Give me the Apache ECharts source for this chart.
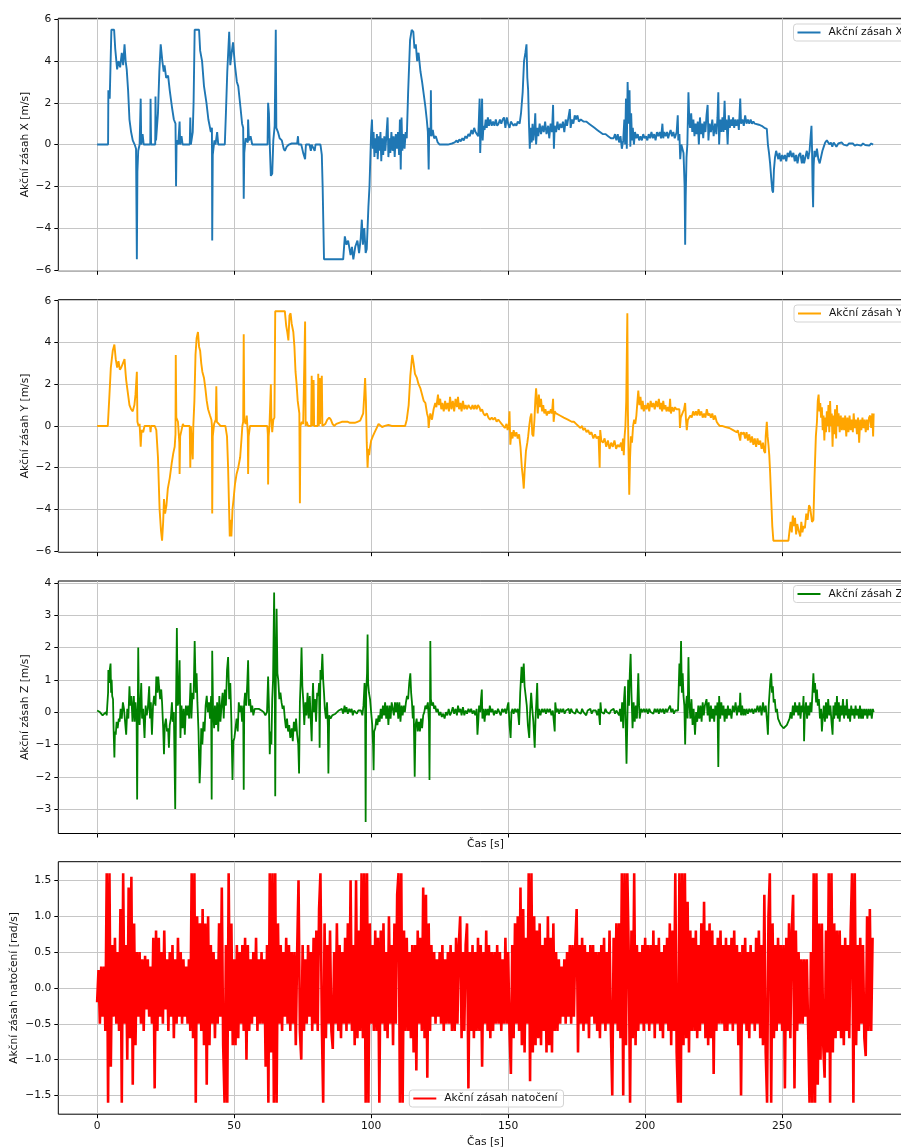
<!DOCTYPE html>
<html><head><meta charset="utf-8">
<script src="https://cdn.jsdelivr.net/npm/echarts@6/dist/echarts.min.js"></script>
<style>html,body{margin:0;padding:0;background:#fff}#c{width:901px;height:1147px}</style>
</head><body><div id="c"></div>
<script>
// ---- labels ----
const seriesNames = ['Akční zásah X', 'Akční zásah Y', 'Akční zásah Z', 'Akční zásah natočení'];
const yTitles = ['Akční zásah X [m/s]', 'Akční zásah Y [m/s]', 'Akční zásah Z [m/s]', 'Akční zásah natočení [rad/s]'];
const xTitle = 'Čas [s]';
const xTicks = [0, 50, 100, 150, 200, 250];
const yTicksXY = [-6, -4, -2, 0, 2, 4, 6];
const yTicksZ = [-3, -2, -1, 0, 1, 2, 3, 4];
const yTicksRot = [-1.5, -1.0, -0.5, 0.0, 0.5, 1.0, 1.5];

// ---- data: [time s, value] ----
const akcniX = [[0,0],[4,0],[4.1,2.6],[4.6,2.2],[5.2,5.5],[6.2,5.5],[6.6,4.6],[7.3,3.6],[7.8,4.0],[8.4,3.7],[9.0,4.4],[9.5,3.8],[10.0,4.8],[10.4,4.0],[10.8,3.6],[11.3,2.6],[11.8,1.2],[12.4,0.6],[13.0,0.2],[13.7,0],[14.2,-0.2],[14.5,-5.5],[14.7,-1.3],[15.0,-0.3],[15.5,0],[15.9,2.2],[16.1,0],[16.6,0.5],[17.0,0],[19.4,0],[19.5,2.2],[19.7,0],[21.2,0],[21.3,2.3],[21.5,0.2],[22.2,1.5],[22.7,3.5],[23.2,4.8],[23.8,4.0],[24.3,3.5],[24.6,3.8],[25.2,3.2],[25.9,3.3],[26.5,2.6],[27.3,1.8],[28.0,1.2],[28.6,1.0],[28.8,-2.0],[29.0,0.2],[29.6,0],[30.1,1.1],[30.3,0],[30.8,0.4],[31.2,0],[33.8,0],[34.0,1.3],[34.2,0],[34.9,0.6],[35.2,2.0],[35.6,5.5],[37.2,5.5],[37.6,4.5],[38.3,4.0],[39.0,2.8],[39.9,2.0],[40.6,1.2],[41.5,0.6],[41.9,0.8],[42.0,-4.6],[42.2,-0.5],[42.8,0.2],[43.2,0],[43.8,0.6],[44.2,0],[46.6,0],[47.0,1.5],[47.5,3.5],[48.2,5.4],[48.6,3.8],[49.2,4.5],[49.6,4.9],[50.3,3.8],[51.0,3.0],[51.5,2.8],[52.3,1.8],[52.9,1.0],[53.3,0.8],[53.5,-2.6],[53.7,-0.4],[54.2,0.3],[55.0,0.1],[55.1,1.2],[55.4,0.2],[56.0,0.4],[56.6,0],[62.2,0],[62.4,2.0],[62.7,1.5],[63.0,0],[63.4,-1.5],[63.9,-1.4],[64.3,0.2],[64.8,0.9],[65.2,5.5],[65.4,0.8],[66.0,0.6],[66.6,0.3],[67.4,0.2],[68.1,-0.2],[68.5,-0.3],[69.2,-0.1],[70.0,0.0],[71.0,0.05],[73.0,0.05],[73.3,0.4],[73.5,0],[74.5,0],[75.2,-0.4],[75.9,-0.7],[76.2,0],[77.5,0],[78.0,-0.3],[78.3,0],[79.0,0],[79.4,-0.3],[79.7,0],[81.5,0],[82.0,-0.5],[82.3,-2.0],[82.8,-5.5],[89.8,-5.5],[90.4,-4.4],[91.0,-4.8],[91.6,-4.6],[92.5,-5.3],[93.0,-4.9],[93.5,-5.5],[94.2,-4.9],[95.0,-4.6],[95.6,-5.2],[96.2,-4.5],[96.6,-3.6],[97.0,-4.8],[97.5,-4.0],[98.0,-5.2],[98.4,-5.0],[99.0,-3.0],[99.4,-2.0],[100.0,0.6],[100.3,1.2],[100.6,-0.2],[100.9,0.6],[101.2,-0.6],[101.5,0.3],[101.8,-0.4],[102.1,0.5],[102.4,-0.7],[102.8,0.4],[103.1,-0.3],[103.4,0.6],[103.7,-0.8],[104.0,0.3],[104.4,-0.5],[104.8,0.4],[105.2,-0.3],[105.6,0.5],[106.0,1.3],[106.3,-0.6],[106.7,0.3],[107.0,-0.4],[107.4,0.6],[107.8,-0.3],[108.2,0.4],[108.6,-0.6],[109.0,0.5],[109.4,-0.2],[109.8,0.6],[110.2,-0.5],[110.5,1.2],[110.8,-1.2],[111.1,1.3],[111.4,-0.3],[111.8,0.5],[112.2,-0.2],[112.6,0.6],[113.0,0.3],[113.5,2.5],[114.2,5.0],[114.8,5.5],[115.4,5.4],[115.8,4.6],[116.3,4.8],[116.8,4.0],[117.3,4.4],[118.0,3.5],[118.6,3.0],[119.2,2.4],[119.8,1.8],[120.3,1.2],[120.7,0.6],[121.0,-1.2],[121.2,0.8],[121.7,0.4],[121.8,2.6],[122.0,0.4],[122.5,0.7],[123.0,0.3],[123.6,0.4],[124.3,0.1],[125.0,0.0],[126.5,0.0],[128.0,0.0],[129.5,0.05],[130.5,0.1],[131.2,0.2],[131.6,0.1],[132.2,0.25],[132.7,0.15],[133.3,0.3],[133.8,0.2],[134.4,0.4],[134.9,0.3],[135.5,0.5],[136.0,0.4],[136.6,0.7],[137.1,0.5],[137.6,0.8],[138.1,0.6],[138.6,0.5],[139.1,0.4],[139.4,1.5],[139.6,2.2],[139.8,-0.4],[140.1,0.8],[140.5,2.2],[140.7,0.2],[141.0,0.9],[141.4,0.7],[141.8,1.2],[142.2,0.8],[142.6,1.3],[143.0,0.9],[143.5,1.2],[144.0,0.9],[144.5,1.1],[145.0,0.9],[145.5,1.2],[146.0,0.9],[146.5,1.0],[147.0,1.2],[147.5,1.0],[148.0,1.2],[148.5,1.3],[149.0,0.8],[149.5,1.3],[150.0,1.0],[150.5,0.8],[151.0,1.1],[151.5,1.0],[152.0,0.9],[152.5,1.0],[153.0,0.9],[153.5,1.1],[154.2,1.0],[154.7,1.5],[155.3,2.5],[155.8,4.0],[156.3,4.4],[156.7,4.8],[157.0,3.2],[157.3,2.6],[157.6,1.0],[157.9,-0.2],[158.2,0.8],[158.6,0.1],[158.9,1.0],[159.2,0.2],[159.6,0.7],[159.9,1.5],[160.2,0.0],[160.6,0.8],[161.0,0.4],[161.5,1.0],[162.0,0.5],[162.5,0.9],[163.0,0.6],[163.5,1.1],[164.0,0.5],[164.6,0.9],[165.0,0.3],[165.5,1.0],[166.0,0.6],[166.4,1.9],[166.7,-0.2],[167.0,0.9],[167.5,0.6],[168.0,1.1],[168.5,0.7],[169.0,1.0],[169.5,0.8],[170.0,1.1],[170.5,0.6],[171.0,1.2],[171.5,0.9],[172.0,1.3],[172.5,1.7],[172.8,0.8],[173.3,1.2],[173.8,1.0],[174.3,1.4],[174.8,1.2],[175.3,1.4],[175.8,1.1],[176.5,1.2],[177.5,1.1],[178.5,1.1],[179.5,1.0],[180.5,0.9],[181.5,0.8],[182.5,0.7],[183.5,0.6],[184.5,0.5],[185.5,0.5],[186.5,0.4],[187.5,0.3],[188.5,0.3],[189.0,0.5],[189.5,0.2],[190.0,0.5],[190.5,0.1],[191.0,0.4],[191.5,-0.2],[192.0,0.2],[192.4,1.2],[192.7,0.0],[193.0,2.2],[193.3,-0.2],[193.6,3.0],[193.9,1.6],[194.1,1.0],[194.3,2.6],[194.6,-0.1],[194.9,1.5],[195.2,0.2],[195.5,0.8],[195.9,0.0],[196.3,0.6],[196.8,0.3],[197.3,0.5],[197.8,0.2],[198.3,0.4],[198.8,0.2],[199.3,0.5],[199.8,0.3],[200.3,0.4],[200.8,0.2],[201.3,0.5],[201.8,0.3],[202.3,0.6],[202.8,0.3],[203.3,0.5],[203.8,0.2],[204.3,0.6],[204.8,0.4],[205.3,0.6],[205.8,0.3],[206.3,1.0],[206.6,0.3],[207.0,0.6],[207.5,0.4],[208.0,0.6],[208.4,0.3],[208.8,0.5],[209.3,0.7],[209.8,0.4],[210.3,0.6],[210.8,0.3],[211.5,0.6],[211.9,1.4],[212.1,0.2],[212.5,0.5],[212.8,-0.7],[213.2,0.0],[213.6,0.0],[214.0,-0.4],[214.4,-2.0],[214.6,-4.8],[214.8,-2.5],[215.1,-0.6],[215.4,0.0],[215.8,2.5],[216.1,1.2],[216.4,0.8],[216.8,1.5],[217.2,0.6],[217.6,1.2],[218.0,0.4],[218.4,1.0],[218.8,0.5],[219.2,1.1],[219.6,0.0],[220.0,1.3],[220.4,0.5],[220.8,1.0],[221.2,0.3],[221.6,1.1],[222.0,0.6],[222.4,1.4],[222.8,1.9],[223.1,0.2],[223.5,1.0],[224.0,0.6],[224.5,1.2],[225.0,0.4],[225.5,1.0],[226.0,0.5],[226.4,1.3],[226.7,2.5],[227.0,0.0],[227.4,1.2],[227.8,0.6],[228.2,1.3],[228.6,0.6],[229.0,2.1],[229.3,0.7],[229.7,1.2],[230.1,0.0],[230.5,1.4],[230.9,0.8],[231.3,1.2],[231.7,0.9],[232.1,1.3],[232.5,0.8],[232.9,1.2],[233.3,0.9],[233.8,1.2],[234.2,0.7],[234.7,2.2],[235.0,1.0],[235.5,1.2],[236.0,0.9],[236.5,1.4],[237.0,1.0],[237.5,1.2],[238.0,1.0],[238.5,1.2],[239.0,1.0],[239.5,1.1],[240.0,1.0],[240.5,1.0],[241.5,0.95],[242.5,0.9],[243.5,0.8],[244.4,0.75],[244.8,0.0],[245.2,-0.4],[245.6,-0.9],[246.0,-1.6],[246.4,-2.2],[246.7,-2.3],[247.0,-1.2],[247.4,-0.6],[247.8,-0.3],[248.2,-0.5],[248.6,-0.7],[249.0,-0.4],[249.5,-0.8],[250.0,-0.5],[250.5,-0.7],[251.0,-0.5],[251.5,-0.8],[252.0,-0.4],[252.5,-0.6],[253.0,-0.3],[253.5,-0.6],[254.1,-0.4],[254.6,-0.8],[255.1,-0.5],[255.6,-0.9],[256.1,-0.5],[256.6,-0.4],[257.2,-0.9],[257.6,-0.5],[258.0,-0.9],[258.5,-0.6],[259.0,-0.3],[259.5,-0.7],[260.0,-0.3],[260.4,0.4],[260.7,0.9],[260.9,-0.2],[261.1,-2.0],[261.3,-3.0],[261.5,-1.0],[261.8,-0.3],[262.2,-0.6],[262.7,-0.2],[263.2,-0.7],[263.7,-0.9],[264.2,-0.6],[264.7,-0.3],[265.2,-0.1],[265.7,0.1],[266.3,0.2],[266.8,0.15],[267.3,0.0],[267.8,0.1],[268.3,-0.1],[268.8,0.1],[269.3,0.0],[269.8,-0.1],[270.5,0.05],[271.0,0.0],[271.7,0.1],[272.4,0.0],[273.0,0.08],[273.7,-0.05],[274.4,0.05],[275.1,0.0],[275.8,0.05],[276.5,-0.05],[277.3,0.0],[278.0,0.05],[278.8,-0.05],[279.5,0.05],[280.3,-0.02],[281.0,0.05],[281.8,-0.05],[282.5,0.05],[283.2,0.0]];

const akcniY = [[0,0],[3.9,0],[4.5,1.5],[5.0,2.8],[5.7,3.6],[6.3,3.9],[6.8,3.2],[7.3,2.8],[7.8,3.1],[8.3,2.7],[8.8,2.8],[9.4,3.0],[10.0,3.2],[10.4,2.5],[10.6,2.2],[11.2,1.6],[11.8,1.0],[12.4,0.8],[13.0,0.7],[13.6,1.0],[14.0,1.5],[14.5,2.6],[14.7,0.2],[15.1,0.0],[15.5,0.1],[15.9,-1.0],[16.2,-0.2],[16.8,-0.3],[17.3,0.0],[19.3,0],[19.5,-0.3],[19.7,0],[21.0,0],[21.6,-0.2],[22.2,-1.5],[22.8,-4.0],[23.3,-5.0],[23.7,-5.5],[24.1,-4.6],[24.4,-3.5],[24.8,-4.2],[25.3,-3.8],[25.8,-3.0],[26.5,-2.5],[27.2,-1.8],[27.8,-1.3],[28.3,-1.0],[28.6,-0.4],[28.7,3.4],[28.9,0.4],[29.5,0.2],[30.0,-0.8],[30.1,-2.3],[30.3,-0.5],[30.8,-0.2],[31.3,0.1],[31.6,0],[33.8,0],[34.0,-2.0],[34.2,0],[34.7,0],[34.9,-1.6],[35.1,0],[35.5,1.2],[35.9,3.4],[36.3,4.2],[36.8,4.5],[37.2,3.8],[37.6,3.6],[38.0,3.0],[38.4,2.6],[39.0,2.3],[39.5,1.8],[40.0,1.2],[40.5,0.8],[41.2,0.5],[41.7,0.3],[41.9,0.0],[42.0,-4.2],[42.2,-0.5],[42.7,0.1],[43.3,0.3],[43.5,1.9],[43.7,0.2],[44.4,0.1],[45.0,0],[46.8,0],[47.4,-0.5],[47.8,-2.0],[48.2,-4.2],[48.4,-5.3],[48.8,-4.5],[49.0,-5.3],[49.4,-4.0],[49.8,-3.5],[50.3,-2.8],[50.9,-2.3],[51.5,-2.0],[52.2,-1.5],[52.7,-0.6],[53.0,0],[53.3,0.2],[53.5,4.4],[53.7,0.3],[54.2,0.1],[54.6,0.5],[55.0,-0.4],[55.1,-2.3],[55.3,-0.5],[55.8,0.0],[56.4,0],[62.1,0],[62.3,-0.4],[62.4,-2.8],[62.6,-0.5],[62.9,0],[63.2,0],[63.4,2.0],[63.6,0.4],[63.9,-0.3],[64.3,0.3],[64.7,0.4],[65.0,5.5],[68.5,5.5],[69.0,4.8],[69.4,4.5],[69.8,4.1],[70.2,5.3],[70.6,5.4],[71.0,4.9],[71.6,4.5],[72.0,3.8],[72.4,2.6],[72.8,2.0],[73.2,1.2],[73.4,1.0],[73.8,0.6],[74.0,-3.7],[74.2,0.0],[74.7,0.2],[75.2,0.1],[75.9,5.0],[76.1,0.0],[76.5,0.2],[77.0,0.0],[78.1,0],[78.3,2.4],[78.5,0],[79.0,2.2],[79.2,0],[80.5,0],[80.7,2.5],[80.9,0],[81.2,2.3],[81.4,0.1],[81.7,1.9],[82.0,2.4],[82.2,0.0],[82.6,0.0],[83.3,0.1],[84.0,0.3],[84.7,0.4],[85.3,0.3],[85.9,0.1],[86.5,0.0],[87.3,0.1],[88.0,0.1],[89.3,0.2],[90.5,0.2],[91.5,0.2],[92.3,0.15],[93.0,0.2],[94.0,0.15],[95.0,0.2],[96.0,0.25],[96.6,0.3],[97.1,0.6],[97.5,1.5],[97.8,2.3],[98.1,1.2],[98.4,-0.8],[98.7,-2.0],[99.0,-1.1],[99.3,-1.4],[99.6,-1.0],[100.0,-0.7],[100.6,-0.5],[101.3,-0.3],[102.0,-0.1],[102.7,0.1],[103.3,0.05],[104.0,-0.05],[105.0,0.0],[106.3,0.05],[107.5,0.0],[109.0,0.0],[110.5,0.0],[112.4,0.0],[113.0,0.3],[113.7,1.0],[114.3,2.4],[115.0,3.4],[115.5,3.0],[116.0,2.5],[116.7,2.3],[117.3,2.0],[118.0,1.8],[118.6,1.5],[119.2,1.2],[119.8,1.1],[120.4,0.6],[120.8,0.4],[121.0,-0.1],[121.2,0.2],[121.6,0.6],[122.2,0.3],[122.8,0.8],[123.4,1.1],[123.8,0.9],[124.4,1.5],[124.7,1.0],[125.2,1.3],[125.6,0.8],[126.0,1.1],[126.5,0.7],[127.0,1.2],[127.4,0.8],[127.9,1.1],[128.4,0.7],[128.8,1.4],[129.3,0.8],[129.8,1.2],[130.3,0.7],[130.8,1.3],[131.3,0.9],[131.7,1.4],[132.1,0.8],[132.6,1.1],[133.0,0.7],[133.5,1.2],[134.0,0.8],[134.5,1.0],[135.0,0.8],[135.5,1.0],[136.0,0.9],[136.5,0.8],[137.0,1.0],[137.5,0.8],[138.0,1.0],[138.5,0.8],[139.0,1.0],[139.5,0.9],[140.0,0.7],[140.5,0.8],[141.0,0.6],[141.5,0.5],[142.2,0.6],[142.8,0.4],[143.4,0.3],[144.0,0.4],[144.6,0.3],[145.2,0.4],[145.8,0.2],[146.4,0.3],[147.0,0.2],[147.6,0.1],[148.2,0.0],[148.8,-0.1],[149.4,0.1],[149.8,-0.2],[150.2,0.0],[150.5,0.7],[150.8,-0.9],[151.2,-0.3],[151.6,-0.6],[152.0,-0.2],[152.5,-0.5],[153.0,-0.3],[153.5,-0.6],[154.0,-0.4],[154.5,-1.0],[155.0,-2.0],[155.4,-2.5],[155.7,-3.0],[156.0,-2.2],[156.5,-1.2],[157.0,-0.8],[157.3,-0.5],[157.7,0.0],[158.1,0.4],[158.5,0.6],[158.8,-0.4],[159.2,-0.5],[159.6,0.3],[159.9,1.2],[160.2,1.8],[160.5,1.2],[160.8,0.6],[161.2,1.5],[161.6,0.9],[162.0,1.3],[162.4,0.7],[162.8,1.0],[163.2,0.6],[163.6,0.8],[164.1,0.5],[164.6,0.7],[165.1,0.6],[165.6,0.8],[166.0,0.6],[166.4,1.3],[166.6,0.2],[167.0,0.7],[167.5,0.6],[168.2,0.6],[168.9,0.5],[169.6,0.5],[170.3,0.4],[171.0,0.4],[171.8,0.3],[172.5,0.3],[173.2,0.2],[174.0,0.2],[174.8,0.1],[175.6,0.0],[176.4,-0.1],[177.0,0.0],[177.4,-0.2],[178.0,-0.1],[178.6,-0.3],[179.2,-0.2],[179.8,-0.4],[180.4,-0.3],[181.1,-0.6],[181.7,-0.4],[182.3,-0.6],[183.0,-0.5],[183.4,-2.0],[183.6,-0.2],[184.0,-0.7],[184.6,-0.8],[185.2,-0.6],[185.8,-1.0],[186.4,-0.7],[187.0,-1.1],[187.6,-0.8],[188.2,-1.0],[188.8,-0.7],[189.4,-1.1],[190.0,-0.9],[190.6,-1.0],[191.2,-0.8],[191.6,-1.2],[191.9,-0.6],[192.2,-1.4],[192.5,-0.5],[192.8,0.0],[193.1,1.2],[193.5,5.4],[193.7,0.8],[193.9,-1.0],[194.2,-3.3],[194.5,-1.5],[194.8,-0.5],[195.2,-0.8],[195.6,0.0],[196.0,0.3],[196.4,0.1],[196.8,0.5],[197.2,1.2],[197.5,1.7],[197.9,1.0],[198.3,1.4],[198.7,0.8],[199.1,1.2],[199.5,0.7],[200.0,1.0],[200.5,0.8],[201.0,1.1],[201.5,0.7],[202.0,1.2],[202.5,0.9],[203.0,1.1],[203.5,0.8],[204.0,1.2],[204.5,0.9],[205.0,1.3],[205.4,0.8],[205.8,1.1],[206.2,0.7],[206.6,1.2],[207.0,0.8],[207.4,1.0],[207.8,0.7],[208.3,0.9],[208.8,0.7],[209.1,1.3],[209.4,0.6],[209.9,0.9],[210.4,0.7],[210.9,0.9],[211.4,0.8],[212.0,0.8],[212.5,0.8],[212.7,-0.1],[213.0,0.4],[213.6,0.6],[214.2,0.8],[214.6,1.1],[214.9,0.3],[215.2,-0.2],[215.6,0.3],[216.0,0.3],[216.5,0.5],[217.0,0.4],[217.5,0.7],[218.0,0.5],[218.5,0.7],[219.0,0.5],[219.5,0.8],[220.0,0.5],[220.5,0.7],[221.0,0.4],[221.5,0.6],[222.0,0.4],[222.5,0.8],[223.0,0.5],[223.5,0.6],[224.0,0.4],[224.5,0.6],[225.0,0.3],[225.5,0.5],[226.1,0.2],[226.6,0.1],[227.2,0.0],[228.0,0.0],[228.6,0.0],[229.3,-0.05],[230.0,-0.1],[230.7,-0.1],[231.4,-0.15],[232.1,-0.2],[232.8,-0.2],[233.4,-0.3],[233.8,-0.2],[234.2,-0.4],[234.7,-0.7],[235.0,-0.3],[235.5,-0.4],[236.0,-0.3],[236.5,-0.6],[237.0,-0.3],[237.5,-0.7],[238.0,-0.4],[238.5,-0.8],[239.0,-0.5],[239.5,-0.9],[240.0,-0.6],[240.5,-1.0],[241.0,-0.6],[241.5,-0.9],[242.0,-0.7],[242.5,-1.1],[243.0,-0.8],[243.4,-1.2],[243.8,-1.3],[244.0,-0.5],[244.4,0.2],[244.7,-0.5],[245.0,-0.9],[245.3,-1.4],[245.6,-2.2],[246.0,-3.5],[246.4,-4.8],[246.8,-5.5],[252.3,-5.5],[252.7,-5.0],[253.1,-4.6],[253.5,-5.1],[253.9,-4.3],[254.3,-4.8],[254.7,-4.4],[255.1,-5.2],[255.5,-4.7],[256.0,-5.0],[256.6,-5.3],[257.0,-4.6],[257.4,-5.1],[257.8,-4.8],[258.3,-4.9],[258.8,-4.2],[259.3,-4.5],[259.8,-3.8],[260.2,-3.9],[260.5,-4.2],[260.9,-4.6],[261.4,-4.5],[261.8,-2.5],[262.3,-0.5],[262.7,0.2],[263.0,1.2],[263.3,1.5],[263.6,0.7],[263.9,1.1],[264.2,0.4],[264.5,0.9],[264.8,-0.2],[265.1,0.5],[265.4,-0.7],[265.7,0.4],[266.0,-0.3],[266.3,0.7],[266.6,0.0],[266.9,1.0],[267.2,-0.3],[267.5,1.2],[267.8,0.0],[268.1,0.6],[268.4,-1.0],[268.7,0.5],[269.0,-0.4],[269.3,0.8],[269.7,-0.6],[270.0,1.0],[270.3,0.0],[270.6,0.6],[271.0,-0.3],[271.4,0.5],[271.8,-0.2],[272.2,0.4],[272.6,-0.2],[273.0,0.5],[273.4,-0.5],[273.8,0.4],[274.2,-0.3],[274.6,0.5],[275.0,-0.2],[275.4,0.3],[275.8,-0.3],[276.1,0.6],[276.5,-0.1],[276.9,0.3],[277.3,-0.4],[277.7,0.4],[278.1,-0.8],[278.5,0.3],[278.9,-0.2],[279.3,0.4],[279.7,-0.1],[280.1,0.3],[280.5,-0.3],[280.9,0.3],[281.3,-0.2],[281.7,0.4],[282.1,0.5],[282.5,-0.1],[282.9,0.6],[283.2,-0.5],[283.4,0.6]];

const akcniZ = [[0,0.05],[0.5,0.03],[1.0,0.0],[1.5,-0.05],[2.0,-0.1],[2.7,-0.1],[3.2,0.0],[3.5,-0.1],[3.7,0.2],[4.0,0.6],[4.1,1.3],[4.4,0.9],[4.6,1.3],[4.9,1.5],[5.1,0.6],[5.3,1.0],[5.5,0.5],[5.8,0.4],[6.0,-0.5],[6.3,-1.4],[6.5,-0.6],[6.8,-0.7],[7.1,-0.3],[7.5,-0.5],[7.9,-0.2],[8.2,-0.3],[8.6,0.1],[9.0,-0.2],[9.4,0.3],[9.8,0.1],[10.2,-0.3],[10.6,-0.7],[11.0,0.1],[11.4,-0.2],[11.8,0.8],[12.1,0.2],[12.5,0.5],[12.9,-0.3],[13.4,0.5],[13.7,-0.3],[14.0,0.3],[14.4,-0.2],[14.6,-2.7],[14.8,-0.4],[15.0,2.0],[15.2,0.4],[15.5,-0.4],[15.8,0.3],[16.1,0.9],[16.4,-0.2],[16.8,0.1],[17.3,-0.8],[17.7,0.2],[18.1,-0.1],[18.5,0.1],[19.0,0.8],[19.3,-0.2],[19.6,0.3],[20.0,-0.7],[20.4,0.2],[20.8,0.5],[21.3,0.2],[21.6,1.1],[22.0,0.6],[22.3,1.1],[22.6,1.1],[23.0,0.4],[23.4,0.7],[23.7,0.3],[24.1,-0.5],[24.4,-1.3],[24.7,-0.4],[25.1,-0.2],[25.5,-0.6],[25.9,-0.5],[26.2,-1.1],[26.5,-0.4],[26.9,-0.2],[27.3,0.3],[27.6,-0.3],[28.0,0.0],[28.5,-3.0],[28.8,0.3],[29.1,2.6],[29.4,0.2],[29.7,0.3],[30.1,1.6],[30.4,-0.8],[30.8,0.2],[31.2,-0.5],[31.6,0.1],[32.0,-0.7],[32.4,0.2],[32.8,-0.1],[33.2,0.2],[33.6,-0.2],[34.1,0.9],[34.4,-0.2],[34.8,0.6],[35.2,0.4],[35.6,2.2],[36.0,0.6],[36.3,1.2],[36.6,0.3],[37.0,-0.6],[37.4,-2.2],[37.7,-1.6],[38.0,-0.5],[38.4,-1.0],[38.8,-0.3],[39.2,-0.6],[39.6,0.2],[40.0,0.5],[40.4,0.0],[40.8,0.3],[41.2,-0.2],[41.6,0.5],[41.8,-2.7],[42.0,1.9],[42.3,0.1],[42.7,-0.5],[43.0,0.2],[43.4,-0.4],[43.8,0.3],[44.2,-0.6],[44.6,0.5],[45.0,-0.3],[45.4,0.2],[45.8,0.6],[46.2,-0.2],[46.6,0.7],[47.0,0.2],[47.4,1.3],[47.8,1.7],[48.2,0.4],[48.6,0.9],[49.0,-0.3],[49.4,-2.1],[49.7,-0.9],[50.1,-0.8],[50.5,-0.5],[50.9,-0.2],[51.3,-0.6],[51.7,0.3],[52.1,0.0],[52.5,0.2],[52.9,-0.3],[53.3,0.2],[53.5,-2.4],[53.7,0.3],[54.0,0.6],[54.4,0.2],[54.8,0.9],[55.1,1.6],[55.4,0.2],[55.8,0.4],[56.2,0.0],[56.6,0.2],[57.0,-0.1],[57.5,0.1],[58.0,0.05],[59.0,0.1],[60.0,0.05],[60.8,0.0],[61.4,-0.1],[62.0,0.0],[62.4,1.1],[62.7,0.2],[63.0,-1.3],[63.3,-0.6],[63.6,-1.0],[63.9,0.4],[64.2,1.0],[64.6,3.7],[64.8,1.5],[65.0,-2.6],[65.2,0.8],[65.5,3.2],[65.8,1.2],[66.1,1.0],[66.5,0.4],[66.9,0.6],[67.3,0.3],[67.7,0.1],[68.1,0.2],[68.5,-0.2],[68.9,-0.5],[69.3,-0.2],[69.7,-0.6],[70.1,-0.4],[70.5,-0.8],[71.0,-0.5],[71.4,-0.9],[71.8,-0.3],[72.2,-0.6],[72.6,-0.2],[73.0,-0.7],[73.4,-1.0],[73.7,-1.9],[74.0,0.3],[74.3,1.0],[74.6,2.0],[74.9,0.8],[75.2,0.4],[75.6,-0.4],[76.0,0.3],[76.4,-0.1],[76.8,0.6],[77.2,-0.2],[77.6,0.5],[78.0,-0.3],[78.3,-0.9],[78.6,0.4],[78.8,0.9],[79.1,0.0],[79.5,0.4],[79.9,-0.3],[80.3,0.6],[80.7,0.5],[81.0,0.9],[81.2,-1.1],[81.5,1.3],[81.8,1.0],[82.2,1.8],[82.5,1.0],[82.8,0.6],[83.1,0.1],[83.5,-0.2],[83.9,0.3],[84.2,-0.4],[84.4,-1.9],[84.7,-0.1],[85.2,-0.2],[85.8,-0.1],[86.4,-0.1],[87.0,-0.05],[87.6,0.0],[88.2,0.05],[88.8,0.0],[89.3,0.1],[89.8,-0.05],[90.3,0.2],[90.6,0.0],[91.0,0.15],[91.5,-0.05],[92.0,0.1],[92.5,0.0],[92.9,0.1],[93.3,-0.1],[93.8,0.05],[94.3,0.1],[94.8,-0.05],[95.3,0.05],[95.8,0.0],[96.3,0.05],[96.8,-0.1],[97.2,0.2],[97.6,0.9],[97.8,0.4],[98.0,-3.4],[98.2,0.6],[98.5,1.2],[98.7,2.4],[98.9,0.9],[99.2,0.6],[99.6,0.4],[100.0,0.0],[100.4,-0.4],[100.7,-1.0],[100.9,-1.8],[101.1,-0.6],[101.5,-0.5],[101.9,-0.2],[102.3,-0.4],[102.7,-0.1],[103.1,-0.3],[103.5,0.1],[103.9,-0.2],[104.3,0.2],[104.7,-0.1],[105.1,0.3],[105.5,-0.2],[105.9,0.2],[106.3,-0.4],[106.7,0.2],[107.1,-0.2],[107.5,0.3],[107.9,0.1],[108.3,-0.1],[108.7,0.3],[109.1,0.0],[109.5,0.3],[109.9,-0.2],[110.3,0.3],[110.7,-0.3],[111.1,0.2],[111.5,-0.1],[111.9,0.2],[112.3,0.0],[112.7,0.3],[113.1,0.5],[113.5,0.4],[113.9,0.9],[114.3,1.2],[114.6,0.6],[114.9,0.3],[115.2,-0.2],[115.5,0.2],[115.9,-2.0],[116.2,-0.4],[116.6,-0.2],[117.0,-0.6],[117.4,-0.3],[117.8,-0.6],[118.2,-0.2],[118.6,-0.5],[119.0,-0.1],[119.4,0.0],[119.8,0.2],[120.2,0.1],[120.7,0.3],[121.1,-0.3],[121.3,-2.1],[121.5,0.4],[121.6,2.2],[121.8,0.4],[122.2,0.2],[122.6,0.3],[123.0,0.1],[123.4,0.2],[123.8,0.0],[124.3,0.1],[124.8,-0.1],[125.3,0.0],[125.8,-0.15],[126.3,-0.05],[126.8,-0.2],[127.3,0.0],[127.8,-0.1],[128.3,0.1],[128.8,-0.1],[129.3,0.0],[129.8,0.15],[130.3,-0.05],[130.8,0.1],[131.3,-0.1],[131.7,0.2],[132.1,0.0],[132.6,0.1],[133.0,-0.1],[133.5,0.15],[134.0,-0.1],[134.5,0.05],[135.0,-0.05],[135.5,0.1],[136.0,0.0],[136.5,0.1],[137.0,-0.05],[137.5,0.05],[138.0,-0.1],[138.5,0.1],[138.8,-0.7],[139.1,-0.3],[139.4,0.2],[139.8,0.0],[140.1,0.4],[140.4,0.7],[140.6,-0.2],[141.0,0.1],[141.4,-0.3],[141.8,0.1],[142.2,-0.1],[142.6,0.1],[143.0,-0.1],[143.3,0.2],[143.8,0.0],[144.3,0.1],[144.8,-0.1],[145.3,0.05],[145.8,-0.05],[146.3,0.1],[146.8,0.0],[147.3,-0.1],[147.8,0.1],[148.3,0.0],[148.8,0.1],[149.3,-0.05],[149.8,0.2],[150.1,0.3],[150.5,-0.4],[150.9,-0.8],[151.2,0.0],[151.6,0.1],[152.0,-0.05],[152.5,0.1],[153.0,0.0],[153.5,0.1],[154.0,-0.4],[154.4,0.6],[154.9,1.4],[155.2,0.9],[155.7,1.5],[156.0,0.8],[156.4,0.5],[156.8,0.2],[157.2,-0.4],[157.7,-0.8],[158.0,0.0],[158.4,0.6],[158.8,0.1],[159.2,-0.3],[159.7,-1.1],[160.0,-0.2],[160.3,0.3],[160.6,0.9],[160.9,-0.2],[161.3,0.1],[161.8,-0.1],[162.3,0.1],[162.8,0.0],[163.3,0.1],[163.8,-0.05],[164.3,0.1],[164.8,0.0],[165.3,0.1],[165.8,-0.1],[166.3,0.05],[166.8,0.1],[167.0,-0.6],[167.2,0.3],[167.6,0.0],[168.1,0.1],[168.6,-0.05],[169.1,0.1],[169.6,0.0],[170.1,0.1],[170.6,-0.05],[171.1,0.05],[171.6,0.0],[172.1,0.1],[172.5,-0.05],[173.0,0.1],[173.5,0.0],[174.0,0.05],[174.5,-0.05],[175.0,0.1],[175.5,0.0],[176.0,0.05],[176.5,-0.05],[177.0,0.1],[177.5,0.0],[178.0,0.05],[178.5,-0.1],[179.0,0.05],[179.5,0.0],[180.0,0.1],[180.5,-0.05],[181.0,0.05],[181.5,0.0],[182.0,0.05],[182.5,-0.1],[183.0,0.1],[183.5,-0.4],[183.7,0.3],[184.0,0.0],[184.5,0.05],[185.0,-0.05],[185.5,0.1],[186.0,0.0],[186.5,0.05],[187.0,-0.05],[187.5,0.05],[188.0,0.0],[188.5,0.1],[189.0,-0.05],[189.5,0.05],[190.0,0.1],[190.5,-0.1],[190.8,0.1],[191.2,-0.3],[191.6,0.3],[192.0,-0.5],[192.3,0.4],[192.6,0.8],[192.9,-0.4],[193.2,-1.6],[193.5,-0.3],[193.8,1.0],[194.1,0.2],[194.4,1.2],[194.7,1.8],[195.0,0.6],[195.4,-0.5],[195.8,0.3],[196.2,-0.3],[196.6,0.2],[197.0,-0.2],[197.5,1.2],[197.8,0.2],[198.0,-0.2],[198.5,0.1],[199.0,0.0],[199.5,0.1],[200.0,0.0],[200.5,0.1],[201.0,-0.05],[201.5,0.1],[202.0,0.0],[202.5,0.05],[203.0,-0.05],[203.5,0.1],[204.0,0.0],[204.5,0.1],[205.0,-0.05],[205.5,0.1],[206.0,0.0],[206.5,0.1],[207.0,-0.05],[207.5,0.1],[208.0,0.0],[208.5,0.1],[209.1,0.2],[209.5,0.0],[210.0,0.1],[210.5,-0.05],[211.0,0.05],[211.5,0.0],[212.0,0.05],[212.5,1.5],[212.8,0.8],[213.1,2.2],[213.4,0.6],[213.7,1.2],[214.0,0.5],[214.3,0.2],[214.6,-1.0],[214.9,0.2],[215.2,0.5],[215.5,-0.2],[215.8,1.7],[216.1,0.3],[216.5,-0.2],[216.9,0.4],[217.3,-0.4],[217.7,0.1],[218.2,-0.7],[218.6,0.0],[219.0,-0.3],[219.4,0.2],[219.8,-0.2],[220.2,0.2],[220.6,-0.3],[221.0,0.3],[221.4,-0.1],[221.8,0.2],[222.4,0.4],[222.8,-0.1],[223.2,0.3],[223.6,-0.3],[224.0,0.2],[224.4,-0.2],[224.8,0.1],[225.2,-0.3],[225.6,0.2],[226.0,-0.1],[226.4,0.3],[226.7,-1.7],[227.0,0.5],[227.4,-0.2],[227.8,0.3],[228.2,-0.1],[228.6,0.2],[229.0,-0.3],[229.4,0.1],[229.8,-0.2],[230.2,0.2],[230.6,-0.1],[231.0,0.1],[231.5,-0.2],[232.0,0.2],[232.5,0.0],[233.0,0.3],[233.5,-0.1],[234.0,0.2],[234.4,0.0],[234.7,0.6],[235.0,-0.1],[235.4,0.2],[235.8,-0.1],[236.2,0.1],[236.6,-0.1],[237.0,0.1],[237.5,-0.05],[238.0,0.1],[238.5,0.0],[239.0,0.1],[239.5,-0.05],[240.0,0.1],[240.5,0.0],[241.0,0.2],[241.5,0.0],[242.0,0.2],[242.5,-0.1],[243.0,0.3],[243.5,0.0],[244.0,0.2],[244.5,-0.3],[244.8,-0.7],[245.1,0.2],[245.4,0.6],[245.7,1.0],[246.0,1.2],[246.3,0.6],[246.6,0.8],[246.9,0.3],[247.3,0.4],[247.7,0.0],[248.1,0.1],[248.5,-0.2],[249.0,-0.3],[249.5,-0.4],[250.0,-0.4],[250.5,-0.5],[251.0,-0.5],[251.7,-0.4],[252.2,-0.3],[252.7,-0.2],[253.1,0.0],[253.5,-0.2],[253.9,0.2],[254.3,-0.1],[254.7,0.3],[255.1,0.0],[255.5,0.2],[255.9,-0.1],[256.3,0.3],[256.7,-0.2],[257.1,0.2],[257.5,0.0],[257.8,0.5],[258.0,-0.9],[258.3,0.0],[258.7,0.3],[259.1,-0.2],[259.5,0.2],[259.9,-0.1],[260.3,0.3],[260.7,0.0],[261.0,0.5],[261.4,1.2],[261.7,0.6],[262.0,0.9],[262.4,0.3],[262.7,0.7],[263.0,0.2],[263.4,0.4],[263.8,-0.2],[264.2,0.1],[264.5,-0.6],[264.8,-0.2],[265.2,0.2],[265.6,-0.3],[266.0,0.3],[266.4,-0.2],[266.8,0.4],[267.2,-0.1],[267.6,0.2],[268.0,-0.3],[268.4,-0.7],[268.7,0.2],[269.0,-0.2],[269.4,0.3],[269.7,-0.1],[270.0,0.5],[270.3,-0.2],[270.7,0.3],[271.0,-0.3],[271.4,0.2],[271.8,-0.1],[272.2,0.4],[272.6,-0.2],[273.0,0.2],[273.4,-0.1],[273.6,0.4],[274.0,-0.2],[274.4,0.1],[274.8,-0.3],[275.2,0.2],[275.6,-0.1],[276.0,0.1],[276.4,-0.2],[276.8,0.2],[277.2,-0.1],[277.6,0.1],[278.0,-0.2],[278.4,0.2],[278.8,-0.2],[279.1,0.1],[279.5,-0.2],[279.9,0.1],[280.3,-0.1],[280.7,0.1],[281.1,-0.2],[281.5,0.1],[281.9,-0.1],[282.3,0.1],[282.7,-0.2],[283.1,0.1],[283.4,0.0]];

// rotation command, sampled every 0.5 s starting at t = 0 (one line = 10 s)
const natoceniStep = 0.5;
const natoceni = [
-0.2,0.25,-0.5,0.3,-0.4,0.3,-0.6,1.6,-1.6,1.6,-1.1,0.6,-0.4,0.7,-0.5,0.5,-0.6,1.1,-1.6,1.6,
-0.5,0.6,-1.0,1.4,-0.7,1.55,-1.35,0.9,-0.8,0.5,-0.4,0.5,-0.5,0.4,-0.6,0.45,-0.3,0.4,-0.4,0.3,
-0.5,0.7,-1.4,0.8,-0.6,0.7,-0.4,0.5,-0.5,0.8,-0.3,0.4,-0.6,0.5,-0.4,0.6,-0.7,0.4,-0.5,0.7,
-0.4,0.5,-0.5,0.4,-0.4,0.3,-0.5,0.4,-0.6,1.6,-0.7,1.6,-1.6,1.0,-0.5,0.9,-0.6,1.1,-0.8,0.9,
-1.35,1.0,-0.8,0.6,-0.5,0.5,-0.7,0.4,-0.5,0.9,-0.4,1.4,-0.8,-1.6,0.6,-1.6,1.6,-0.6,0.9,-0.8,
0.4,-0.8,0.6,-0.7,0.5,-0.5,0.6,-0.6,0.7,-1.0,0.6,-0.6,0.4,-0.5,0.5,-0.4,0.7,-0.6,0.4,-0.5,
0.5,-0.5,0.4,-1.1,0.6,-1.6,1.6,-0.9,1.6,-1.6,1.6,-1.6,0.9,-0.5,0.6,-0.6,0.5,-0.4,0.7,-0.5,
0.6,-0.6,0.5,-0.5,0.5,-0.8,0.5,1.5,-0.6,-1.0,0.6,-0.6,0.4,-0.5,0.6,-0.4,0.5,-0.6,0.7,-0.5,
0.8,-0.6,1.1,1.6,-0.5,-1.6,0.9,-0.7,0.6,-0.5,0.8,-0.6,-0.85,0.5,-0.5,0.9,-0.6,0.6,-0.7,0.5,
-0.5,0.7,-0.6,0.9,-0.5,1.5,-0.6,0.6,-0.8,1.5,-0.7,0.8,-0.6,1.6,-0.7,1.6,-1.6,1.6,-1.6,0.9,
-0.5,0.6,-0.6,0.8,-0.6,0.7,-1.6,0.8,-0.5,0.9,-0.6,0.5,-0.7,1.0,-0.5,0.6,-0.8,0.9,-0.5,1.3,
1.6,-1.6,1.6,-1.6,0.8,-0.6,0.7,-0.6,0.5,-0.7,0.6,-0.9,0.6,-1.15,0.8,-0.5,0.7,-0.6,1.4,-0.7,
1.3,-1.25,0.9,-0.6,0.6,-0.4,0.5,-0.5,0.4,-0.4,0.5,-0.5,0.6,-0.6,0.4,-0.5,0.5,-0.5,0.6,-0.6,
0.5,-0.6,0.7,-0.5,0.6,1.0,-0.7,0.5,-0.6,0.6,0.9,-1.4,0.5,-0.6,0.6,-0.7,0.5,-0.6,0.7,-0.6,
0.6,-1.1,0.5,-0.5,0.8,-0.6,0.6,-0.7,0.5,-0.6,0.5,-0.5,0.6,-0.5,0.5,-0.6,0.4,-0.5,0.7,-0.5,
0.5,-0.6,-1.2,0.6,-0.7,0.9,-0.5,1.0,-0.6,1.4,-0.8,1.1,-0.9,0.7,-0.5,1.6,-1.3,1.6,-0.9,1.0,
-0.8,0.8,-0.7,0.9,-0.8,0.6,-0.6,0.7,-0.9,1.0,-0.8,0.7,-0.9,0.9,-0.6,0.5,-0.6,0.4,-0.5,0.3,
-0.4,0.4,-0.5,0.5,-0.4,0.6,-0.5,0.6,-0.4,0.6,1.1,-0.9,0.6,-0.5,0.7,-0.6,0.6,-0.5,0.5,-0.7,
0.6,-0.4,0.6,-0.5,0.5,-0.6,0.5,-0.7,0.6,-0.5,0.7,-0.6,0.5,-0.5,0.8,-0.6,-1.5,0.7,-0.5,0.9,
-0.6,0.9,-0.7,1.6,-1.5,1.6,-0.8,1.6,0.5,-1.6,0.8,-0.7,1.6,-0.8,0.6,-0.6,0.5,-0.5,0.6,-0.6,
0.7,-0.5,0.6,-0.6,0.6,-0.5,0.8,-0.7,0.6,-0.5,0.7,-0.6,0.5,-0.7,0.6,-0.5,0.7,-0.6,0.9,-0.8,
0.8,-0.6,1.6,-0.9,-1.6,1.6,-1.6,1.6,-0.8,1.6,-0.7,1.2,-0.9,0.8,-0.6,0.7,-0.6,0.8,-0.7,0.6,
-0.6,0.9,-0.5,1.2,-0.7,0.8,-0.8,0.9,-0.7,0.8,-1.2,0.6,-0.6,0.7,-0.5,0.8,-0.5,0.6,-0.6,0.7,
-0.6,0.6,-0.5,0.7,-0.6,0.8,-0.5,0.6,-0.8,0.5,-1.5,0.6,-0.5,0.7,-0.6,0.5,-0.7,0.6,-0.5,0.5,
-0.6,0.7,-0.5,0.8,-0.7,0.6,-0.8,1.3,-0.9,-1.6,1.0,1.6,-1.6,0.9,-0.7,0.6,-0.6,0.7,-0.5,0.6,
-0.6,0.6,-1.4,0.7,-0.6,0.9,-0.7,0.8,1.3,-1.4,0.8,-0.6,0.5,-0.5,0.4,-0.5,0.4,-0.4,0.4,-0.6,
-1.6,0.5,-1.6,1.6,-1.6,1.6,-1.35,0.9,-1.0,0.9,-0.8,-1.25,0.8,-0.9,1.6,-1.6,1.6,-0.9,0.9,-0.7,
0.8,-0.6,0.8,-0.7,0.6,-0.8,0.7,-0.6,0.6,-0.7,0.8,1.6,-1.6,1.6,-0.8,0.6,-0.6,0.7,-0.5,0.6,
-0.7,-0.95,1.0,-0.6,1.1,-0.6,0.7
];

const colors = ['#1f77b4', '#ffa500', '#008000', '#ff0000'];

// ---- layout ----
const FONT = 'DejaVu Sans';
const FS = 10.7;
const TXT = '#111';
const gridLeft = 58.3, gridWidth = 854.2, gridHeight = 252.5;
const gridTops = [18.3, 299.7, 581, 861.7];
const xRange = [-14.17, 297.57];
const yRanges = [[-6.05, 6.05], [-6.05, 6.05], [-3.755, 4.055], [-1.76, 1.76]];
const yTickSets = [yTicksXY, yTicksXY, yTicksZ, yTicksRot];
const yDecimals = [0, 0, 0, 1];
const yNameGaps = [28, 28, 28, 39];
const xNameGaps = [0, 0, 5, 23];
const lineWidths = [1.9, 1.9, 1.8, 2.6];

function fmt(ticks, dec) {
  return function (v) {
    for (const t of ticks) {
      if (Math.abs(v - t) < 1e-6) return t.toFixed(dec).replace('-', '\u2212');
    }
    return '';
  };
}

const rotData = natoceni.map((v, i) => [i * natoceniStep, v]);
const allData = [akcniX, akcniY, akcniZ, rotData];

const grid = gridTops.map(t => ({
  left: gridLeft, top: t, width: gridWidth, height: gridHeight,
  show: true, borderColor: '#000', borderWidth: 1, backgroundColor: 'transparent',
  containLabel: false, outerBoundsMode: 'none'
}));

const splitLine = {show: true, lineStyle: {color: '#c6c6c6', width: 1}};
const tick = {show: true, inside: false, length: 4, lineStyle: {color: '#000', width: 1}};

const xAxis = gridTops.map((t, i) => ({
  type: 'value', gridIndex: i, position: 'bottom', min: xRange[0], max: xRange[1],
  minInterval: 50, maxInterval: 50,
  axisLine: {show: false, onZero: false},
  axisTick: Object.assign({customValues: xTicks}, tick),
  axisLabel: {show: i === 3, customValues: xTicks, formatter: fmt(xTicks, 0), margin: 7,
              fontFamily: FONT, fontSize: FS, color: TXT},
  splitLine: splitLine,
  name: (i >= 2) ? xTitle : '', nameLocation: 'middle', nameGap: xNameGaps[i],
  nameMoveOverlap: false,
  nameTextStyle: {fontFamily: FONT, fontSize: FS, color: TXT, verticalAlign: 'top'}
}));

const yAxis = gridTops.map((t, i) => {
  const ticks = yTickSets[i];
  const step = Math.abs(ticks[1] - ticks[0]);
  return {
    type: 'value', gridIndex: i, position: 'left', min: yRanges[i][0], max: yRanges[i][1],
    minInterval: step, maxInterval: step,
    axisLine: {show: false, onZero: false},
    axisTick: Object.assign({customValues: ticks}, tick),
    axisLabel: {customValues: ticks, formatter: fmt(ticks, yDecimals[i]), margin: 7,
                fontFamily: FONT, fontSize: FS, color: TXT},
    splitLine: splitLine,
    name: yTitles[i], nameLocation: 'middle', nameGap: yNameGaps[i], nameRotate: 90,
    nameMoveOverlap: false,
    nameTextStyle: {fontFamily: FONT, fontSize: FS, color: TXT}
  };
});

const series = allData.map((d, i) => ({
  type: 'line', name: seriesNames[i], xAxisIndex: i, yAxisIndex: i, data: d,
  showSymbol: false, symbol: 'none', clip: true,
  lineStyle: {color: colors[i], width: lineWidths[i]}, itemStyle: {color: colors[i]},
  emphasis: {disabled: true}
}));

const legendBase = {
  orient: 'horizontal', icon: 'rect', itemWidth: 23, itemHeight: 2,
  padding: [3, 6, 3, 4], backgroundColor: 'rgba(255,255,255,0.8)',
  borderColor: '#d3d3d3', borderWidth: 1, borderRadius: 3, selectedMode: false,
  textStyle: {fontFamily: FONT, fontSize: FS, color: TXT, padding: [0, 0, 0, 3]}
};
const legendPos = [[793.5, 24], [794, 305], [793.5, 585.5], [409.3, 1090]];
const legend = seriesNames.map((n, i) => Object.assign({}, legendBase, {
  data: [n], left: legendPos[i][0], top: legendPos[i][1]
}));

const chart = echarts.init(document.getElementById('c'), null, {renderer: 'canvas'});
chart.setOption({
  animation: false,
  backgroundColor: '#fff',
  grid, xAxis, yAxis, series, legend
});
</script>
</body></html>
